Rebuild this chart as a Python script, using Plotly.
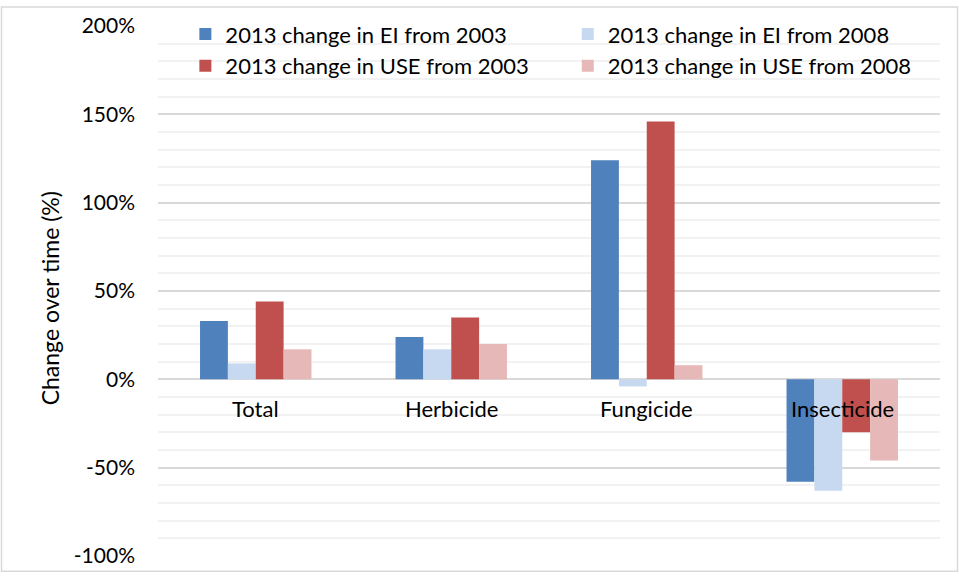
import plotly.graph_objects as go

categories = ["Total", "Herbicide", "Fungicide", "Insecticide"]
ei_2003 = [33, 24, 124, -58]
ei_2008 = [9, 17, -4, -63]
use_2003 = [44, 35, 146, -30]
use_2008 = [17, 20, 8, -46]
series_names = [
    "2013 change in EI from 2003",
    "2013 change in EI from 2008",
    "2013 change in USE from 2003",
    "2013 change in USE from 2008",
]
series_values = [ei_2003, ei_2008, use_2003, use_2008]
colors = ["#4F81BD", "#C6D9F1", "#C0504D", "#E6B9B8"]
legend_ids = ["legend", "legend2", "legend", "legend2"]
tick_vals = [-100, -50, 0, 50, 100, 150, 200]
tick_text = ["-100%", "-50%", "0%", "50%", "100%", "150%", "200%"]
y_title = "Change over time (%)"

FONT = "Lato"
FS = 22
fig = go.Figure()
for name, vals, col, lg in zip(series_names, series_values, colors, legend_ids):
    fig.add_trace(go.Bar(x=categories, y=vals, name=name, marker_color=col,
                         marker_line_width=0, legend=lg))

for c in categories:
    fig.add_annotation(x=c, y=0, text=c, showarrow=False, yanchor="top",
                       yshift=-14, font=dict(family=FONT, size=FS, color="#000"))

W, H = 959, 579
L, R, T, B = 158, 19, 21, 17
pw, ph = W - L - R, H - T - B
fig.add_shape(type="rect", xref="paper", yref="paper",
              x0=(1.5 - L) / pw, x1=(W - 1.5 - L) / pw,
              y0=-(B - 1.5) / ph, y1=1 + (T - 1.5) / ph,
              line=dict(color="#D9D9D9", width=1.5), fillcolor="rgba(0,0,0,0)", layer="below")

fig.add_annotation(xref="paper", yref="paper", x=(50 - L) / pw, y=(H - B - 299) / ph,
                   text=y_title, textangle=-90, showarrow=False,
                   xanchor="center", yanchor="middle",
                   font=dict(family=FONT, size=23, color="#000"))

leg_common = dict(orientation="v", yanchor="top", xanchor="left",
                  bgcolor="rgba(0,0,0,0)", font=dict(family=FONT, size=FS),
                  traceorder="normal", tracegroupgap=0)

fig.update_layout(
    width=W, height=H,
    margin=dict(l=L, r=R, t=T, b=B),
    paper_bgcolor="white", plot_bgcolor="white",
    barmode="group", bargap=0.43, bargroupgap=0,
    font=dict(family=FONT, size=FS, color="#000"),
    legend=dict(x=0.035, y=1.024, **leg_common),
    legend2=dict(x=0.524, y=1.024, **leg_common),
    xaxis=dict(showticklabels=False, showgrid=False, showline=False, ticks=""),
    yaxis=dict(range=[-100, 200], tickvals=tick_vals, ticktext=tick_text, showline=False,
               gridcolor="#D9D9D9", gridwidth=1.5,
               zeroline=True, zerolinecolor="#D9D9D9", zerolinewidth=2,
               minor=dict(dtick=10, showgrid=True, gridcolor="#F2F2F2", gridwidth=1.5),
               tickfont=dict(family=FONT, size=21), ticklabelstandoff=22),
    showlegend=True,
)

fig.write_html("out.html")
